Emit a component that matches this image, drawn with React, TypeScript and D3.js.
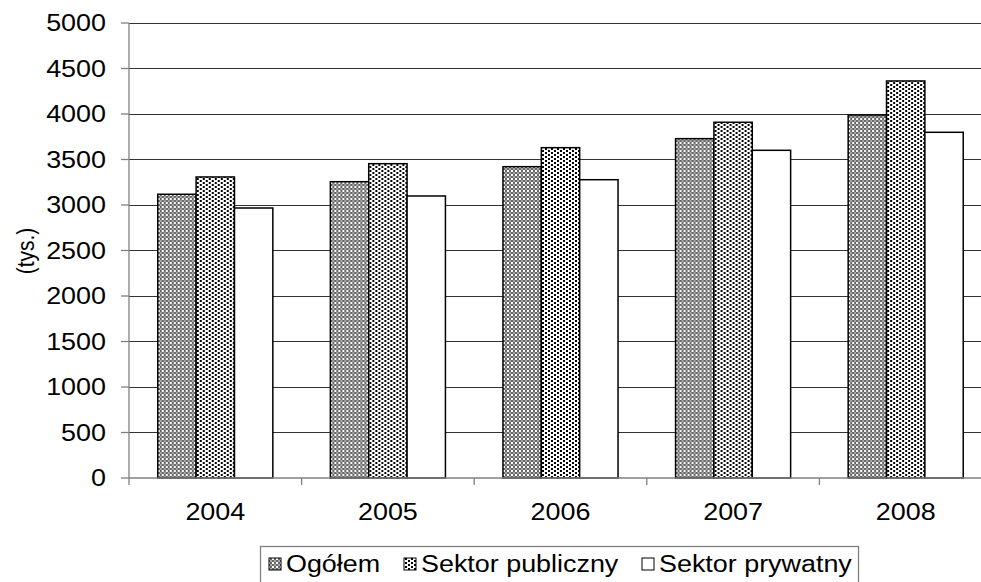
import React from 'react';
import * as d3 from 'd3';

// values (thousands)
const years = ['2004', '2005', '2006', '2007', '2008'];
const seriesNames = ['Ogółem', 'Sektor publiczny', 'Sektor prywatny'];
const ogolem = [3118, 3256, 3421, 3729, 3989];
const publiczny = [3308, 3454, 3630, 3909, 4363];
const prywatny = [2967, 3099, 3278, 3601, 3799];
const yTicks = [0, 500, 1000, 1500, 2000, 2500, 3000, 3500, 4000, 4500, 5000];

const seriesValues = [ogolem, publiczny, prywatny];
const fills = ['url(#patOgolem)', 'url(#patPubl)', '#ffffff'];

const W = 981;
const H = 582;
const margin = { left: 129, right: 992, top: 23, bottom: 478 };
const font = '"Liberation Sans", Arial, sans-serif';
const fs = 23;
const sx = 1.17; // the original picture is stretched sideways

// text drawn with the sideways stretch
const Txt: React.FC<{ x: number; y: number; anchor?: string; children: React.ReactNode }> = ({ x, y, anchor = 'start', children }) => (
  <text transform={`translate(${x},${y}) scale(${sx},1)`} textAnchor={anchor}
    fontFamily={font} fontSize={fs} fill="#000">{children}</text>
);

const App: React.FC = () => {
  const x = d3.scaleBand<string>()
    .domain(years)
    .range([margin.left, margin.right])
    .paddingInner(1 / 3)
    .paddingOuter(1 / 6);

  const xs = d3.scaleBand<number>()
    .domain([0, 1, 2])
    .range([0, x.bandwidth()]);

  const y = d3.scaleLinear()
    .domain([0, 5000])
    .range([margin.bottom, margin.top]);

  const step = x.step();

  // legend layout
  const legendItems = [
    { sw: 269, tx: 286 },
    { sw: 404, tx: 421 },
    { sw: 642, tx: 659 },
  ];

  return (
    <div style={{ position: 'absolute', left: 0, top: 0 }}>
      <svg width={W} height={H} style={{ display: 'block', background: '#fff' }}>
        <defs>
          <pattern id="patOgolem" width={4} height={4} patternUnits="userSpaceOnUse">
            <rect width={4} height={4} fill="#ffffff" />
            <rect x={0} y={0} width={2} height={2} fill="#666666" />
            <rect x={2} y={2} width={2} height={2} fill="#666666" />
            <rect x={2} y={0} width={2} height={2} fill="#a8a8a8" />
          </pattern>
          <pattern id="patPubl" width={6} height={4} patternUnits="userSpaceOnUse">
            <rect width={6} height={4} fill="#ffffff" />
            <rect x={0} y={0} width={2} height={2} fill="#000000" />
            <rect x={3} y={2} width={2} height={2} fill="#000000" />
          </pattern>
        </defs>

        {/* gridlines */}
        {yTicks.filter(t => t > 0).map(t => (
          <line key={'g' + t} x1={margin.left} x2={margin.right} y1={y(t)} y2={y(t)}
            stroke="#333" strokeWidth={1} shapeRendering="crispEdges" />
        ))}

        {/* bars */}
        {years.map((yr, i) => (
          <g key={yr} transform={`translate(${x(yr)},0)`}>
            {seriesValues.map((vals, s) => (
              <rect key={s}
                x={xs(s)}
                y={y(vals[i])}
                width={xs.bandwidth()}
                height={y(0) - y(vals[i])}
                fill={fills[s]}
                stroke="#000"
                strokeWidth={1.5} />
            ))}
          </g>
        ))}

        {/* y axis */}
        <line x1={margin.left} x2={margin.left} y1={y(5000)} y2={y(0) + 7}
          stroke="#808080" strokeWidth={1.3} />
        {yTicks.map(t => (
          <g key={'t' + t}>
            <line x1={margin.left - 8} x2={margin.left} y1={y(t)} y2={y(t)}
              stroke="#808080" strokeWidth={1.3} />
            <Txt x={106} y={y(t) + 8.3} anchor="end">{t}</Txt>
          </g>
        ))}

        {/* x axis */}
        <line x1={margin.left} x2={margin.right} y1={y(0)} y2={y(0)}
          stroke="#808080" strokeWidth={1.3} />
        {years.map((yr, i) => (
          <line key={'xt' + yr} x1={margin.left + step * (i + 1)} x2={margin.left + step * (i + 1)}
            y1={y(0)} y2={y(0) + 7} stroke="#808080" strokeWidth={1.3} />
        ))}
        {years.map(yr => (
          <Txt key={'xl' + yr} x={(x(yr) || 0) + x.bandwidth() / 2} y={520} anchor="middle">{yr}</Txt>
        ))}

        {/* y axis title */}
        <text transform="translate(34,251) rotate(-90) scale(1,1.1)" textAnchor="middle"
          fontFamily={font} fontSize={21} fill="#000">(tys.)</text>

        {/* legend */}
        <rect x={260.5} y={546.5} width={598} height={50} fill="#fff" stroke="#808080" strokeWidth={1.3} />
        {legendItems.map((it, s) => (
          <g key={'lg' + s}>
            <rect x={it.sw} y={558} width={12} height={12} fill={fills[s]} stroke="#000" strokeWidth={1} />
            <Txt x={it.tx} y={572}>{seriesNames[s]}</Txt>
          </g>
        ))}
      </svg>
    </div>
  );
};

export default App;
